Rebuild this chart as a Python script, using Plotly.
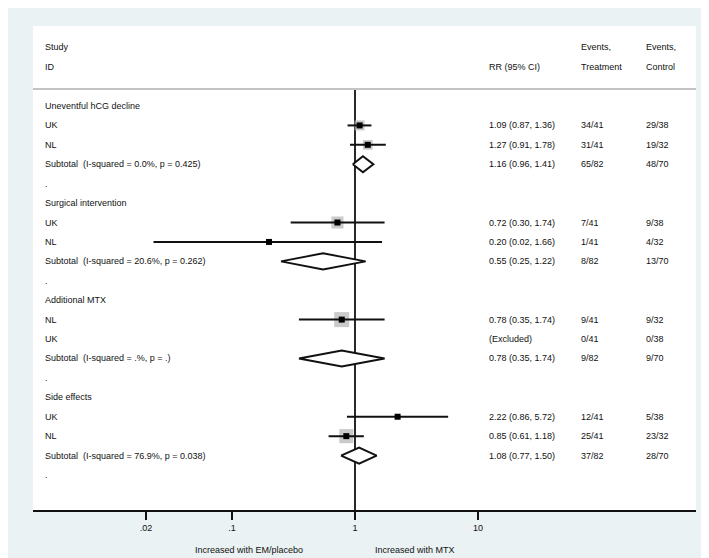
import plotly.graph_objects as go

GROUPS = ["Uneventful hCG decline", "Surgical intervention", "Additional MTX", "Side effects"]

STUDY_GROUP = [0, 0, 1, 1, 2, 2, 3, 3]
STUDY_ID = ["UK", "NL", "UK", "NL", "NL", "UK", "UK", "NL"]
STUDY_RR = [1.09, 1.27, 0.72, 0.20, 0.78, None, 2.22, 0.85]
STUDY_LO = [0.87, 0.91, 0.30, 0.023, 0.35, None, 0.86, 0.61]
STUDY_HI = [1.36, 1.78, 1.74, 1.66, 1.74, None, 5.72, 1.18]
STUDY_WEIGHT = [45, 42, 64, 10, 100, 0, 12, 88]
STUDY_TREAT = ["34/41", "31/41", "7/41", "1/41", "9/41", "0/41", "12/41", "25/41"]
STUDY_CTRL = ["29/38", "19/32", "9/38", "4/32", "9/32", "0/38", "5/38", "23/32"]

SUB_HET = [
    "I-squared = 0.0%, p = 0.425",
    "I-squared = 20.6%, p = 0.262",
    "I-squared = .%, p = .",
    "I-squared = 76.9%, p = 0.038",
]
SUB_RR = [1.16, 0.55, 0.78, 1.08]
SUB_LO = [0.96, 0.25, 0.35, 0.77]
SUB_HI = [1.41, 1.22, 1.74, 1.50]
SUB_TREAT = ["65/82", "8/82", "9/82", "37/82"]
SUB_CTRL = ["48/70", "13/70", "9/70", "28/70"]

TICK_VALS = [0.02, 0.1, 1, 10]
TICK_TEXT = [".02", ".1", "1", "10"]

# page geometry (pixels)
W, H = 709, 558
PLOT_L, PLOT_R, PLOT_T, PLOT_B = 25, 688, 18, 502
ROW0_PX, ROW_PX = 98, 19.42
X1_PX, DECADE_PX = 347, 123

FONT = "Liberation Sans, Arial, sans-serif"
TEXT_COLOR = "#111111"
BG = "#eaf2f3"


def px_to_paper_x(px):
    return (px - PLOT_L) / (PLOT_R - PLOT_L)


def px_to_row(py):
    return (py - ROW0_PX) / ROW_PX


def fmt_ci(rr, lo, hi):
    if rr is None:
        return "(Excluded)"
    return f"{rr:.2f} ({lo:.2f}, {hi:.2f})"


COL_STUDY = px_to_paper_x(35)
COL_RR = px_to_paper_x(479)
COL_TREAT = px_to_paper_x(571)
COL_CTRL = px_to_paper_x(636)

# build the row table
rows = []
study_rows = []
sub_rows = []
r = 0
for g, name in enumerate(GROUPS):
    rows.append((r, name, "", "", ""))
    r += 1
    for i, grp in enumerate(STUDY_GROUP):
        if grp != g:
            continue
        rows.append((r, STUDY_ID[i], fmt_ci(STUDY_RR[i], STUDY_LO[i], STUDY_HI[i]),
                     STUDY_TREAT[i], STUDY_CTRL[i]))
        study_rows.append((r, i))
        r += 1
    rows.append((r, "Subtotal\u00a0 (" + SUB_HET[g] + ")",
                 fmt_ci(SUB_RR[g], SUB_LO[g], SUB_HI[g]), SUB_TREAT[g], SUB_CTRL[g]))
    sub_rows.append((r, g))
    r += 1
    rows.append((r, ".", "", "", ""))
    r += 1

y_top = px_to_row(PLOT_T)
y_bot = px_to_row(PLOT_B)
header_line = px_to_row(81)

fig = go.Figure()

# null line
fig.add_trace(go.Scatter(x=[1, 1], y=[header_line, y_bot], mode="lines",
                         line=dict(color="#111111", width=1.8), hoverinfo="skip"))

# weight boxes
plotted = [(row, i) for row, i in study_rows if STUDY_RR[i] is not None]
fig.add_trace(go.Scatter(
    x=[STUDY_RR[i] for _, i in plotted],
    y=[row for row, _ in plotted],
    mode="markers",
    marker=dict(symbol="square", color="#b4b4b4",
                size=[1.5 * STUDY_WEIGHT[i] ** 0.5 for _, i in plotted], line=dict(width=0)),
    hoverinfo="skip",
))

# confidence intervals
ci_x, ci_y = [], []
for row, i in plotted:
    ci_x += [STUDY_LO[i], STUDY_HI[i], None]
    ci_y += [row, row, None]
fig.add_trace(go.Scatter(x=ci_x, y=ci_y, mode="lines",
                         line=dict(color="#111111", width=2), hoverinfo="skip"))

# point estimates
fig.add_trace(go.Scatter(
    x=[STUDY_RR[i] for _, i in plotted],
    y=[row for row, _ in plotted],
    mode="markers",
    marker=dict(symbol="square", color="#000000", size=6, line=dict(width=0)),
    hoverinfo="skip",
))

# subtotal diamonds
half = 8 / ROW_PX
for row, g in sub_rows:
    fig.add_trace(go.Scatter(
        x=[SUB_LO[g], SUB_RR[g], SUB_HI[g], SUB_RR[g], SUB_LO[g]],
        y=[row, row - half, row, row + half, row],
        mode="lines", fill="toself", fillcolor="white",
        line=dict(color="#111111", width=2), hoverinfo="skip",
    ))

annotations = []


def add_text(x, y, text, yref="y"):
    annotations.append(dict(
        x=x, y=y, xref="paper", yref=yref, text=text, showarrow=False,
        xanchor="left", yanchor="middle",
        font=dict(family=FONT, size=9, color=TEXT_COLOR),
    ))


# headers
add_text(COL_STUDY, px_to_row(39), "Study")
add_text(COL_STUDY, px_to_row(59), "ID")
add_text(COL_RR, px_to_row(59), "RR (95% CI)")
add_text(COL_TREAT, px_to_row(39), "Events,")
add_text(COL_TREAT, px_to_row(59), "Treatment")
add_text(COL_CTRL, px_to_row(39), "Events,")
add_text(COL_CTRL, px_to_row(59), "Control")

for row, label, ci, tr, ct in rows:
    add_text(COL_STUDY, row, label)
    if ci:
        add_text(COL_RR, row, ci)
        add_text(COL_TREAT, row, tr)
        add_text(COL_CTRL, row, ct)

# favours labels
fav_y = (PLOT_B - 542) / (PLOT_B - PLOT_T)
for cx, text in [(241, "Increased with EM/placebo"), (407, "Increased with MTX")]:
    annotations.append(dict(
        x=px_to_paper_x(cx), y=fav_y, xref="paper", yref="paper", text=text,
        showarrow=False, xanchor="center", yanchor="middle",
        font=dict(family=FONT, size=9, color=TEXT_COLOR),
    ))

x_lo = (PLOT_L - X1_PX) / DECADE_PX
x_hi = (PLOT_R - X1_PX) / DECADE_PX

fig.update_layout(
    width=W, height=H,
    margin=dict(l=PLOT_L, r=W - PLOT_R, t=PLOT_T, b=H - PLOT_B, pad=0),
    paper_bgcolor=BG, plot_bgcolor="white",
    showlegend=False,
    annotations=annotations,
    shapes=[dict(type="line", xref="paper", yref="y", x0=0, x1=1,
                 y0=header_line, y1=header_line,
                 line=dict(color="#c4c4c4", width=2))],
    xaxis=dict(
        type="log", range=[x_lo, x_hi], tickvals=TICK_VALS, ticktext=TICK_TEXT,
        ticks="outside", ticklen=8, tickwidth=2, tickcolor="#111111",
        showline=True, linecolor="#111111", linewidth=2,
        showgrid=False, zeroline=False,
        tickfont=dict(family=FONT, size=9, color=TEXT_COLOR),
    ),
    yaxis=dict(range=[y_bot, y_top], visible=False, showgrid=False, zeroline=False),
)

fig.write_html("out.html")
